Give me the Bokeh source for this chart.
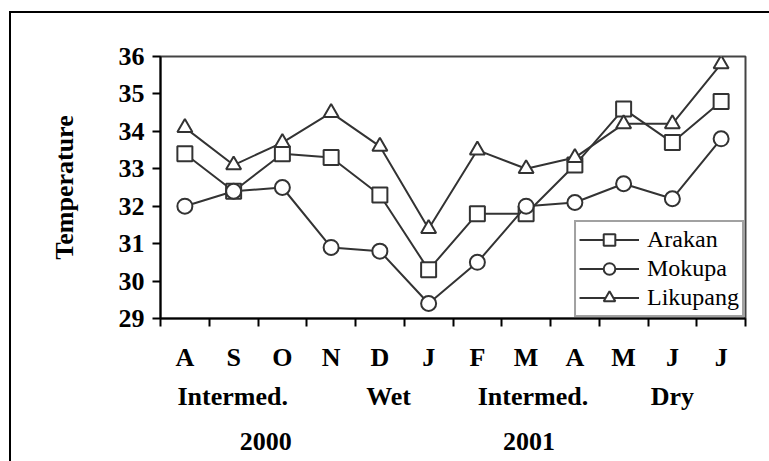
from bokeh.plotting import figure
from bokeh.models import FixedTicker, LinearAxis, Range1d, Legend
from bokeh.embed import file_html
from bokeh.resources import INLINE

months = ["A", "S", "O", "N", "D", "J", "F", "M", "A", "M", "J", "J"]
arakan = [33.4, 32.4, 33.4, 33.3, 32.3, 30.3, 31.8, 31.8, 33.1, 34.6, 33.7, 34.8]
mokupa = [32.0, 32.4, 32.5, 30.9, 30.8, 29.4, 30.5, 32.0, 32.1, 32.6, 32.2, 33.8]
likupang = [34.1, 33.1, 33.7, 34.5, 33.6, 31.4, 33.5, 33.0, 33.3, 34.2, 34.2, 35.8]
seasons = ["Intermed.", "Wet", "Intermed.", "Dry"]
season_pos = [1.48, 4.68, 7.64, 10.5]
years = ["2000", "2001"]
year_pos = [2.16, 7.56]
y_ticks = [29, 30, 31, 32, 33, 34, 35, 36]

xs = [i + 0.5 for i in range(len(months))]

FONT = "Liberation Serif"
LINE = "#333333"
FS = "26px"

p = figure(width=769, height=461, output_backend="svg", toolbar_location=None,
           x_range=Range1d(0, len(months)), y_range=Range1d(29, 36),
           min_border_left=160, min_border_right=24, min_border_top=56,
           min_border_bottom=143,
           x_axis_type=None)
p.xgrid.visible = False
p.ygrid.visible = False
p.outline_line_color = "#444444"
p.outline_line_width = 2
p.background_fill_color = "white"
p.border_fill_color = None
# outer chart-area border (left and top edges) drawn behind the transparent canvas
p.styles = {
    "background": ("linear-gradient(#000, #000) 9px 11px / 2px 460px no-repeat, "
                   "linear-gradient(#000, #000) 9px 11px / 760px 2px no-repeat, #fff"),
}

# y axis
ya = p.yaxis[0]
ya.ticker = FixedTicker(ticks=y_ticks)
ya.axis_label = "Temperature"
ya.axis_label_text_font = FONT
ya.axis_label_text_font_style = "bold"
ya.axis_label_text_font_size = FS
ya.axis_label_text_color = "black"
ya.axis_label_standoff = 37
ya.major_label_text_font = FONT
ya.major_label_text_font_style = "bold"
ya.major_label_text_font_size = FS
ya.major_label_text_color = "black"
ya.major_label_standoff = 8
ya.major_tick_out = 8
ya.major_tick_in = 0
ya.major_tick_line_width = 2
ya.major_tick_line_color = "black"
ya.minor_tick_line_color = None
ya.axis_line_width = 2
ya.axis_line_color = "black"

# month axis
ma = LinearAxis(ticker=FixedTicker(ticks=xs, minor_ticks=list(range(len(months) + 1))),
                major_label_overrides={x: m for x, m in zip(xs, months)})
ma.major_tick_line_color = None
ma.minor_tick_out = 8
ma.minor_tick_in = 0
ma.minor_tick_line_width = 2
ma.minor_tick_line_color = "black"
ma.axis_line_width = 2
ma.axis_line_color = "black"
ma.major_label_text_font = FONT
ma.major_label_text_font_style = "bold"
ma.major_label_text_font_size = FS
ma.major_label_text_color = "black"
ma.major_label_standoff = 16
p.add_layout(ma, "below")

# season axis
sa = LinearAxis(ticker=FixedTicker(ticks=season_pos, minor_ticks=[]),
                major_label_overrides={x: s for x, s in zip(season_pos, seasons)})
sa.axis_line_color = None
sa.major_tick_line_color = None
sa.minor_tick_line_color = None
sa.major_label_text_font = FONT
sa.major_label_text_font_style = "bold"
sa.major_label_text_font_size = FS
sa.major_label_text_color = "black"
sa.major_label_standoff = 1
p.add_layout(sa, "below")

# year axis
yr = LinearAxis(ticker=FixedTicker(ticks=year_pos, minor_ticks=[]),
                major_label_overrides={x: s for x, s in zip(year_pos, years)})
yr.axis_line_color = None
yr.major_tick_line_color = None
yr.minor_tick_line_color = None
yr.major_label_text_font = FONT
yr.major_label_text_font_style = "bold"
yr.major_label_text_font_size = FS
yr.major_label_text_color = "black"
yr.major_label_standoff = 13
p.add_layout(yr, "below")

items = []
for name, vals, marker in [("Arakan", arakan, "square"), ("Mokupa", mokupa, "circle"),
                           ("Likupang", likupang, "triangle")]:
    l = p.line(xs, vals, line_color=LINE, line_width=2)
    s = p.scatter(xs, vals, marker=marker, size=15, fill_color="white",
                  line_color=LINE, line_width=2)
    items.append((name, [l, s]))

leg = Legend(items=items, location="bottom_right")
leg.label_text_font = FONT
leg.label_text_font_style = "normal"
leg.label_text_font_size = "24px"
leg.label_text_color = "black"
leg.glyph_width = 60
leg.glyph_height = 29
leg.label_standoff = 8
leg.label_height = 24
leg.padding = 3
leg.spacing = 0
leg.margin = 1
leg.border_line_color = "#444444"
leg.border_line_width = 2
leg.background_fill_alpha = 1
p.add_layout(leg)

open("out.html", "w").write(file_html(p, INLINE))
